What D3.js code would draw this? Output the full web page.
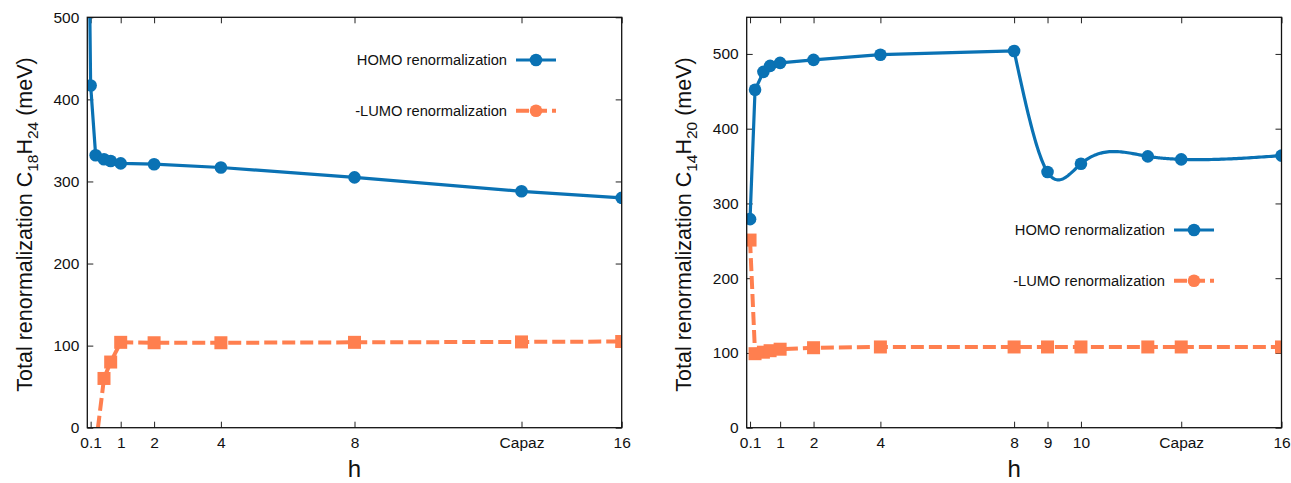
<!DOCTYPE html>
<html>
<head>
<meta charset="utf-8">
<script src="https://cdn.jsdelivr.net/npm/d3@7"></script>
<style>
  body { margin: 0; background: #fff; }
  svg { font-family: "Liberation Sans", Arial, Helvetica, sans-serif; }
  .tick text { font-size: 15.5px; fill: #111; }
  .tick line { stroke: #222; stroke-width: 1; }
</style>
</head>
<body>
<div id="chart"></div>
<script>
// x ticks (h), "Capaz" sits at h = 13
const capazH = 13;
const leftTicksX = [0.1, 1, 2, 4, 8, 13, 16];
const rightTicksX = [0.1, 1, 2, 4, 8, 9, 10, 13, 16];
const leftTicksY = [0, 100, 200, 300, 400, 500];
const rightTicksY = [0, 100, 200, 300, 400, 500];

// left panel, C18H24 (first points of each series lie outside the y range)
const leftHomoH = [0.06, 0.1, 0.25, 0.5, 0.7, 1, 2, 4, 8, 13, 16];
const leftHomoE = [560, 417, 332, 327, 325, 322, 321, 317, 305, 288, 280];
const leftLumoH = [0.25, 0.5, 0.7, 1, 2, 4, 8, 13, 16];
const leftLumoE = [-23, 60, 80, 104, 103.5, 103.5, 104, 104.5, 105];

// right panel, C14H20
const rightHomoH = [0.1, 0.25, 0.5, 0.7, 1, 2, 4, 8, 9, 10, 12, 13, 16];
const rightHomoE = [279, 452, 476, 484, 488, 492, 499, 504, 342, 353, 363, 359, 364];
const rightLumoH = [0.1, 0.25, 0.5, 0.7, 1, 2, 4, 8, 9, 10, 12, 13, 16];
const rightLumoE = [251, 99, 101, 103, 105, 107, 108, 108, 108, 108, 108, 108, 108];

const legendLabels = ["HOMO renormalization", "-LUMO renormalization"];

const blue = "#0a72b4";
const orange = "#ff7f4f";

const svg = d3.select("#chart").append("svg")
  .attr("width", 1291)
  .attr("height", 483);

// natural cubic spline through (xs, ys), sampled for drawing
function naturalSpline(xs, ys, steps) {
  const n = xs.length - 1;
  const h = d3.range(n).map(i => xs[i + 1] - xs[i]);
  const M = new Array(n + 1).fill(0);
  if (n > 1) {
    const a = [], b = [], c = [], d = [];
    for (let i = 1; i < n; i++) {
      a.push(h[i - 1]);
      b.push(2 * (h[i - 1] + h[i]));
      c.push(h[i]);
      d.push(6 * ((ys[i + 1] - ys[i]) / h[i] - (ys[i] - ys[i - 1]) / h[i - 1]));
    }
    const m = b.length;
    for (let i = 1; i < m; i++) {
      const w = a[i] / b[i - 1];
      b[i] -= w * c[i - 1];
      d[i] -= w * d[i - 1];
    }
    const sol = new Array(m);
    sol[m - 1] = d[m - 1] / b[m - 1];
    for (let i = m - 2; i >= 0; i--) sol[i] = (d[i] - c[i] * sol[i + 1]) / b[i];
    for (let i = 1; i < n; i++) M[i] = sol[i - 1];
  }
  const pts = [];
  for (let i = 0; i < n; i++) {
    for (let s = 0; s < steps; s++) {
      const x = xs[i] + h[i] * s / steps;
      const A = (xs[i + 1] - x) / h[i], B = (x - xs[i]) / h[i];
      const y = A * ys[i] + B * ys[i + 1] + ((A * A * A - A) * M[i] + (B * B * B - B) * M[i + 1]) * h[i] * h[i] / 6;
      pts.push([x, y]);
    }
  }
  pts.push([xs[n], ys[n]]);
  return pts;
}

function drawPanel(cfg) {
  const x = d3.scaleLinear().domain([0, 16]).range([cfg.left, cfg.right]);
  const y = d3.scaleLinear().domain(cfg.yDomain).range([cfg.bottom, cfg.top]);
  const g = svg.append("g");
  const w = cfg.right - cfg.left, hgt = cfg.bottom - cfg.top;

  const fmtX = d => d === capazH ? "Capaz" : d3.format("~g")(d);

  g.append("g").attr("transform", `translate(0,${cfg.bottom})`)
    .call(d3.axisBottom(x).tickValues(cfg.ticksX).tickFormat(fmtX).tickSizeInner(-6).tickSizeOuter(0).tickPadding(9))
    .call(a => a.select(".domain").remove());
  g.append("g").attr("transform", `translate(0,${cfg.top})`)
    .call(d3.axisTop(x).tickValues(cfg.ticksX).tickFormat("").tickSizeInner(-6).tickSizeOuter(0))
    .call(a => a.select(".domain").remove());
  g.append("g").attr("transform", `translate(${cfg.left},0)`)
    .call(d3.axisLeft(y).tickValues(cfg.ticksY).tickSizeInner(-6).tickSizeOuter(0).tickPadding(8))
    .call(a => a.select(".domain").remove());
  g.append("g").attr("transform", `translate(${cfg.right},0)`)
    .call(d3.axisRight(y).tickValues(cfg.ticksY).tickFormat("").tickSizeInner(-6).tickSizeOuter(0))
    .call(a => a.select(".domain").remove());

  const clipId = "clip-" + cfg.id;
  svg.append("clipPath").attr("id", clipId)
    .append("rect").attr("x", cfg.left).attr("y", cfg.top).attr("width", w).attr("height", hgt);

  const plot = g.append("g").attr("clip-path", `url(#${clipId})`);
  const line = d3.line().x(d => x(d[0])).y(d => y(d[1]));

  cfg.series.forEach(s => {
    let pts = s.h.map((h, i) => [h, s.e[i]]);
    if (s.splineFrom !== undefined) {
      const k = s.h.indexOf(s.splineFrom);
      pts = pts.slice(0, k).concat(naturalSpline(s.h.slice(k), s.e.slice(k), 40));
    }
    plot.append("path")
      .attr("d", line(pts))
      .attr("fill", "none")
      .attr("stroke", s.color)
      .attr("stroke-width", s.width)
      .attr("stroke-dasharray", s.dash)
      .attr("stroke-linejoin", "round");

    const marks = plot.append("g").attr("fill", s.color);
    if (s.marker === "circle") {
      marks.selectAll("circle").data(s.h.map((h, i) => [h, s.e[i]])).join("circle")
        .attr("cx", d => x(d[0])).attr("cy", d => y(d[1])).attr("r", 6.3);
    } else {
      marks.selectAll("rect").data(s.h.map((h, i) => [h, s.e[i]])).join("rect")
        .attr("x", d => x(d[0]) - 6.5).attr("y", d => y(d[1]) - 6.5)
        .attr("width", 13).attr("height", 13);
    }
  });

  // frame
  g.append("rect")
    .attr("x", cfg.left).attr("y", cfg.top).attr("width", w).attr("height", hgt)
    .attr("fill", "none").attr("stroke", "#111").attr("stroke-width", 1.3);

  // legend
  cfg.series.forEach((s, i) => {
    const ly = cfg.legendY + i * 50.7;
    g.append("text")
      .attr("x", cfg.legendX).attr("y", ly).attr("dy", "0.35em")
      .attr("text-anchor", "end").attr("font-size", 14.7).attr("fill", "#111")
      .text(legendLabels[i]);
    g.append("line")
      .attr("x1", cfg.legendX + 9).attr("x2", cfg.legendX + 49)
      .attr("y1", ly).attr("y2", ly)
      .attr("stroke", s.color).attr("stroke-width", s.width)
      .attr("stroke-dasharray", s.dash);
    g.append("circle")
      .attr("cx", cfg.legendX + 29).attr("cy", ly).attr("r", 6.3)
      .attr("fill", s.color);
  });

  // axis titles
  g.append("text")
    .attr("x", (cfg.left + cfg.right) / 2).attr("y", 477)
    .attr("text-anchor", "middle").attr("font-size", 24).attr("fill", "#111")
    .text("h");

  const yl = g.append("text")
    .attr("transform", `translate(${cfg.yLabelX},${(cfg.top + cfg.bottom) / 2 + 2}) rotate(-90)`)
    .attr("text-anchor", "middle").attr("font-size", 21.5).attr("fill", "#111");
  yl.append("tspan").text("Total renormalization C");
  yl.append("tspan").attr("font-size", 15.5).attr("dy", 5.5).text(cfg.sub1);
  yl.append("tspan").attr("dy", -5.5).text("H");
  yl.append("tspan").attr("font-size", 15.5).attr("dy", 5.5).text(cfg.sub2);
  yl.append("tspan").attr("dy", -5.5).text(" (meV)");
}

drawPanel({
  id: "left",
  left: 87.3, right: 621.7, top: 17.3, bottom: 427.7,
  yDomain: [0, 500],
  ticksX: leftTicksX, ticksY: leftTicksY,
  legendX: 507, legendY: 60,
  yLabelX: 32, sub1: "18", sub2: "24",
  series: [
    { h: leftHomoH, e: leftHomoE, color: blue, width: 3.2, dash: null, marker: "circle" },
    { h: leftLumoH, e: leftLumoE, color: orange, width: 4, dash: "13,5", marker: "square" }
  ]
});

drawPanel({
  id: "right",
  left: 746.7, right: 1281.5, top: 17.3, bottom: 427.7,
  yDomain: [0, 549],
  ticksX: rightTicksX, ticksY: rightTicksY,
  legendX: 1165, legendY: 230,
  yLabelX: 691, sub1: "14", sub2: "20",
  series: [
    { h: rightHomoH, e: rightHomoE, color: blue, width: 3.2, dash: null, marker: "circle", splineFrom: 8 },
    { h: rightLumoH, e: rightLumoE, color: orange, width: 4, dash: "13,5", marker: "square" }
  ]
});
</script>
</body>
</html>
